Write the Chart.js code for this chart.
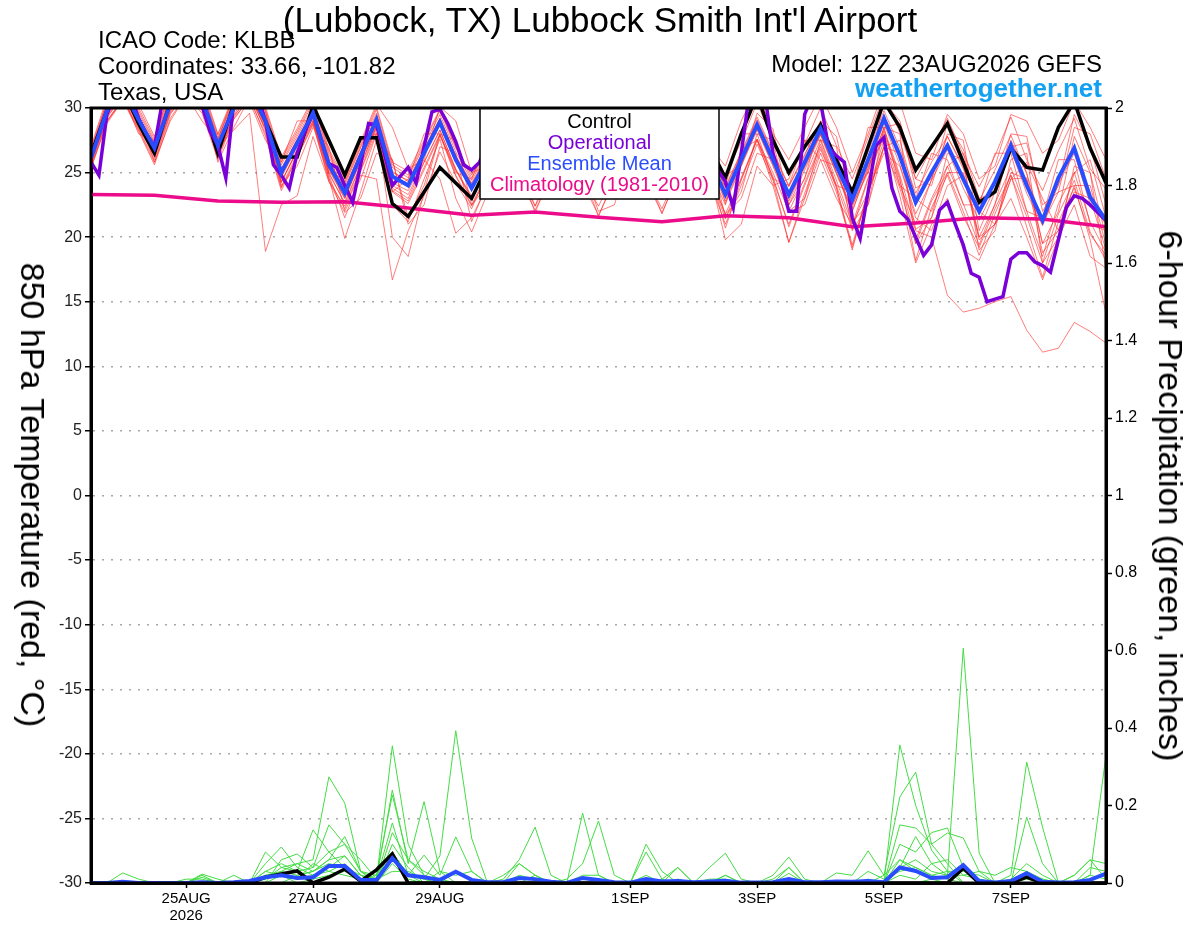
<!DOCTYPE html>
<html>
<head>
<meta charset="utf-8">
<title>KLBB GEFS 850 hPa meteogram</title>
<script src="https://cdn.jsdelivr.net/npm/chart.js@4.4.1/dist/chart.umd.min.js"></script>
<style>
  body { margin: 0; background: #fff; }
  #wrap { position: relative; width: 1200px; height: 927px; font-family: "Liberation Sans", Arial, sans-serif; }
  #wrap canvas { position: absolute; left: 0; top: 0; }
  .txt { position: absolute; white-space: nowrap; color: #000; line-height: 1; }
  .rot { transform: translate(-50%, -50%) rotate(90deg); }
</style>
</head>
<body>
<div id="wrap">
  <canvas id="meteogram" width="1200" height="927"></canvas>
  <div class="txt" style="left:0;width:1200px;text-align:center;top:2px;font-size:35px;">(Lubbock, TX) Lubbock Smith Int'l Airport</div>
  <div class="txt" style="left:98px;top:28px;font-size:24px;">ICAO Code: KLBB</div>
  <div class="txt" style="left:98px;top:54px;font-size:24px;">Coordinates: 33.66, -101.82</div>
  <div class="txt" style="left:98px;top:80px;font-size:24px;">Texas, USA</div>
  <div class="txt" style="right:98px;top:52px;font-size:24px;">Model: 12Z 23AUG2026 GEFS</div>
  <div class="txt" style="right:98px;top:75px;font-size:26px;font-weight:bold;color:#12a0f2;">weathertogether.net</div>
  <div class="txt rot" style="left:33px;top:495px;font-size:34px;">850 hPa Temperature (red, °C)</div>
  <div class="txt rot" style="left:1171px;top:496px;font-size:34px;">6-hour Precipitation (green, inches)</div>
</div>
<script>
// time axis: hours after 12Z 23AUG2026
const tickHours = [36, 84, 132, 204, 252, 300, 348];
const tickLabels = ["25AUG", "27AUG", "29AUG", "1SEP", "3SEP", "5SEP", "7SEP"];
const tickYears = ["2026", "", "", "", "", "", ""];

// 6-hourly 850 hPa temperature (C)
const tempControl = [
  26.4, 29.8, 31.5, 28.8, 26.5, 30.5, 32.0, 30.3,
  26.5, 30.3, 31.5, 29.0, 26.2, 26.2, 30.2, 27.5,
  24.8, 27.7, 27.7, 22.6, 21.6, 23.5, 25.4, 24.2,
  23.0, 25.5, 28.0, 26.0, 24.0, 26.5, 29.0, 26.5,
  24.0, 26.5, 29.0, 26.5, 24.5, 27.0, 29.0, 27.0,
  24.6, 28.0, 31.0, 27.5, 25.0, 27.0, 28.7, 26.0,
  23.5, 27.0, 30.5, 28.5, 25.2, 27.0, 28.8, 25.8,
  22.7, 23.5, 26.9, 25.4, 25.2, 28.5, 30.5, 26.9,
  24.2
];
const tempMean = [
  26.1, 29.8, 31.5, 29.1, 26.9, 30.3, 31.8, 30.8,
  27.1, 30.0, 31.5, 29.0, 25.0, 27.3, 29.6, 25.6,
  23.4, 26.3, 29.1, 24.7, 24.0, 26.5, 28.9, 26.0,
  23.8, 26.0, 28.5, 26.5, 24.5, 26.5, 28.5, 26.0,
  24.5, 26.5, 28.5, 26.0, 24.2, 26.5, 28.5, 26.0,
  23.3, 26.0, 28.7, 26.0, 23.3, 25.8, 28.4, 25.5,
  22.9, 26.0, 29.2, 26.3, 22.7, 25.0, 27.1, 24.5,
  22.0, 24.3, 27.1, 24.0, 21.3, 24.6, 26.9, 23.1,
  21.3
];
// operational run is 3-hourly
const tempOper = [
  25.8, 24.8, 29.5, 31.0, 31.5, 31.0, 29.2, 28.0,
  27.0, 30.5, 31.5, 31.8, 32.0, 31.5, 30.2, 28.2,
  27.1, 24.6, 30.5, 31.5, 32.0, 31.0, 29.0, 25.6,
  24.8, 23.8, 26.5, 28.2, 29.6, 27.6, 25.7, 25.4,
  24.0, 22.7, 25.6, 28.8, 28.7, 26.5, 24.0, 24.7,
  25.4, 24.2, 27.0, 29.7, 29.9, 28.8, 27.4, 25.6,
  25.2, 25.8, 27.3, 28.4, 29.1, 28.3, 26.8, 25.6,
  24.6, 25.4, 27.1, 28.6, 29.2, 28.4, 27.2, 25.4,
  24.3, 25.6, 27.0, 28.3, 29.0, 28.6, 27.1, 25.5,
  24.4, 25.4, 27.2, 28.4, 28.9, 28.0, 26.6, 25.2,
  24.3, 22.3, 26.5, 31.0, 31.5, 31.0, 26.5, 24.4,
  22.0, 22.0, 29.5, 31.0, 30.5, 27.0, 26.3, 25.8,
  21.5, 19.9, 23.5, 27.1, 27.7, 23.8, 22.0, 21.4,
  20.0, 18.6, 19.4, 22.1, 22.7, 21.0, 19.4, 17.2,
  16.9, 15.0, 15.2, 15.4, 18.3, 18.8, 18.8, 18.1,
  17.8, 17.3, 19.8, 22.3, 23.2, 23.0, 22.5, 21.9,
  21.3
];
// daily 1981-2010 climatology
const tempClim = [
  23.3, 23.25, 22.8, 22.7, 22.75, 22.25, 21.7, 21.95, 21.55,
  21.2, 21.65, 21.5, 20.8, 21.1, 21.5, 21.4, 20.8
];

// ensemble members, 6-hourly temperature
const mem01 = [25.6,29.2,31.0,28.6,26.2,29.8,31.4,30.2, 26.4,29.5,31.2,28.2,24.2,26.8,29.2,25.0, 22.6,25.5,28.6,23.8,23.0,25.8,28.3,25.2, 22.9,25.3,28.0,25.8,23.6,25.9,28.1,25.3, 23.4,25.8,28.0,25.2,23.0,25.7,28.0,25.3, 22.5,26.8,27.5,24.0,24.5,27.5,26.0,23.0, 21.0,23.5,27.0,27.5,23.0,22.0,25.5,26.5, 22.0,21.0,24.5,25.8,23.0,20.5,25.0,26.0, 21.5];
const mem02 = [26.9,30.5,32.2,30.0,27.6,31.0,32.5,31.5, 27.9,30.8,32.3,29.9,26.0,28.2,30.6,26.6, 24.3,27.2,30.1,25.8,25.1,27.5,29.9,27.0, 24.8,27.0,29.6,27.4,25.6,27.6,29.6,27.0, 25.5,27.6,29.8,27.2,25.3,27.6,29.7,27.1, 25.5,29.0,31.5,28.0,26.0,28.5,31.0,28.5, 25.0,28.0,31.5,30.5,26.5,26.0,29.5,28.0, 24.5,25.5,29.5,29.0,26.5,27.5,30.5,28.5, 26.0];
const mem03 = [25.9,29.6,31.3,28.9,26.6,30.0,31.6,30.4, 26.9,28.3,29.6,18.9,22.5,23.2,27.8,24.3, 22.4,25.2,28.4,23.6,22.8,25.4,28.0,24.8, 22.5,25.0,27.6,25.4,23.0,25.2,27.5,24.8, 23.2,25.2,27.6,25.0,23.0,25.4,27.6,24.9, 21.4,24.6,27.6,24.5,21.0,24.2,27.2,24.0, 20.6,24.5,28.0,24.4,19.8,23.0,25.5,22.6, 19.4,22.6,25.4,22.0,18.5,22.6,25.0,21.2, 18.8];
const mem04 = [26.2,29.8,31.4,29.0,26.7,30.2,31.7,30.6, 26.8,29.8,31.2,28.6,24.3,26.6,29.0,24.8, 21.5,24.8,24.5,16.7,20.5,23.2,26.6,24.2, 22.2,25.0,27.8,25.8,23.9,25.8,27.8,25.3, 23.6,25.6,27.9,25.2,23.5,25.7,27.9,25.2, 20.7,24.4,27.6,25.0,22.0,24.6,27.6,24.4, 21.0,24.6,28.2,24.6,18.2,22.3,24.8,21.6, 19.2,22.2,24.8,20.8,16.9,21.2,23.8,20.2, 18.6];
const mem05 = [26.4,30.0,31.6,29.3,27.1,30.4,32.0,30.9, 27.3,30.2,31.6,29.2,25.3,27.6,29.9,25.9, 23.8,26.6,29.4,25.0,24.4,26.8,29.2,26.3, 24.1,26.3,28.7,26.7,24.7,26.8,28.7,26.2, 24.8,26.8,28.8,26.3,24.5,26.7,28.7,26.3, 23.6,26.3,28.9,26.2,23.0,25.5,28.0,25.0, 22.0,25.3,28.4,24.8,20.5,20.0,15.5,14.2, 14.5,15.0,15.4,12.8,11.1,11.4,13.4,12.7, 11.8];
const mem06 = [25.4,28.8,30.6,28.2,25.6,29.2,31.0,29.6, 26.0,29.1,30.8,27.8,23.6,26.2,28.8,24.3, 21.9,23.0,26.5,26.0,21.0,22.5,27.0,26.5, 21.2,24.2,27.2,24.8,22.4,24.8,27.4,24.6, 22.4,24.9,27.4,24.6,22.2,25.0,27.4,24.7, 21.8,24.5,27.5,24.7,20.8,24.0,27.0,23.8, 19.4,23.6,27.5,23.2,18.0,21.0,23.0,19.0, 18.2,21.0,23.0,20.0,16.7,20.0,22.5,18.5, 17.6];
const mem07 = [26.6,30.2,31.9,29.6,27.3,30.7,32.2,31.2, 27.6,30.5,31.9,29.5,25.6,27.8,30.1,26.2, 24.0,26.9,29.6,25.4,24.6,27.1,29.5,26.6, 24.4,26.6,29.1,27.0,25.2,27.1,29.1,26.6, 25.1,27.1,29.1,26.6,24.9,27.1,29.1,26.6, 23.9,26.6,29.3,26.6,24.0,26.4,29.0,26.1, 23.5,26.6,29.8,26.9,23.4,25.8,27.8,25.3, 22.8,25.2,27.9,24.9,21.0,23.5,24.0,19.8, 14.1];
const mem08 = [25.3,28.9,30.8,28.3,25.8,29.5,31.2,29.9, 26.2,29.3,31.0,28.4,23.9,26.4,28.9,24.6, 19.9,23.5,27.5,22.5,21.2,24.5,27.6,23.0, 20.4,23.4,26.8,24.5,22.1,24.6,27.2,24.2, 21.7,24.3,27.0,24.3,21.9,24.6,27.1,24.4, 21.0,24.0,27.2,24.4,19.6,23.4,26.8,23.9, 19.0,23.6,26.5,25.5,21.5,20.5,24.0,24.8, 19.8,21.0,25.0,24.5,18.8,20.5,23.5,23.0, 19.0];
const mem09 = [26.7,30.4,32.0,29.8,27.4,30.9,32.4,31.3, 27.7,30.6,32.2,29.7,25.8,28.0,30.4,26.4, 24.2,27.0,29.9,25.6,24.8,27.3,29.8,26.9, 24.6,26.8,29.3,27.2,25.3,27.4,29.4,26.9, 25.3,27.3,29.4,26.8,25.0,27.4,29.5,26.9, 24.8,25.5,29.6,28.4,22.5,24.5,29.0,27.8, 22.5,25.0,30.5,29.0,24.5,24.0,28.0,27.5, 20.5,23.5,28.0,27.8,22.0,24.0,29.5,27.0, 22.5];
const mem10 = [26.0,29.7,31.4,29.0,26.8,30.2,31.7,30.7, 27.0,29.9,31.4,28.9,24.8,27.1,29.4,25.3, 23.0,25.9,28.6,20.0,18.5,23.5,27.9,25.2, 23.2,25.6,28.2,26.1,24.1,26.2,28.2,25.6, 24.1,26.2,28.2,25.6,23.8,26.1,28.2,25.6, 22.8,25.6,28.4,25.6,22.8,25.4,28.0,25.0, 22.3,25.6,27.5,24.0,21.0,24.5,27.8,25.5, 20.0,22.5,27.5,25.0,19.5,22.0,27.8,25.0, 20.0];
const mem11 = [25.8,29.4,31.1,28.7,26.5,29.9,31.4,30.3, 26.7,29.7,31.1,28.6,24.6,27.0,29.3,25.2, 23.0,25.9,28.7,24.2,23.6,26.0,24.5,20.3, 21.5,24.0,27.4,25.6,22.4,25.6,27.9,25.4, 22.0,22.5,26.5,27.0,23.2,23.5,27.0,27.2, 22.6,25.5,28.3,25.5,22.5,25.2,27.9,24.9, 22.0,25.4,28.8,25.6,21.8,24.4,26.8,23.8, 21.3,23.8,26.8,23.4,20.9,24.1,26.5,22.6, 21.0];
const mem12 = [26.3,30.1,31.7,29.4,27.0,30.5,31.9,31.0, 27.3,30.3,31.8,29.3,25.3,27.5,29.8,25.9, 23.7,26.6,29.3,25.1,24.3,26.8,29.2,26.3, 24.2,26.4,28.8,26.9,24.9,27.0,28.9,26.4, 24.9,26.9,28.9,26.4,24.6,26.9,28.9,26.4, 23.8,26.5,29.1,26.5,23.9,26.3,28.9,26.0, 23.5,25.0,28.5,28.8,23.8,24.5,28.8,26.8, 23.0,23.5,27.0,27.3,22.5,23.5,28.5,28.0, 24.5];
const mem13 = [25.7,29.3,31.0,28.5,26.3,29.7,31.3,30.1, 26.5,29.4,30.9,28.4,24.3,26.7,29.0,24.9, 22.7,25.6,28.5,24.0,23.3,25.8,28.3,25.3, 23.0,25.2,27.8,25.4,21.9,24.8,27.7,25.0, 21.6,24.6,27.6,24.9,21.8,24.9,27.7,25.0, 21.8,23.0,26.5,26.0,21.9,22.5,26.0,25.5, 21.2,22.5,27.0,26.5,20.6,21.5,25.0,25.0, 20.0,21.0,24.5,24.6,19.5,20.5,24.0,24.0, 19.4];
const mem14 = [26.2,29.9,31.6,29.2,27.0,30.4,31.9,30.9, 27.2,30.1,31.6,29.1,25.1,27.4,29.7,25.7, 23.5,26.4,29.2,24.8,24.1,26.6,29.0,26.1, 23.9,26.1,28.6,26.6,24.6,26.6,28.6,26.1, 24.6,26.6,28.6,26.1,24.3,26.6,28.6,26.1, 23.4,26.1,28.8,26.1,23.4,25.9,28.5,25.6, 23.0,26.1,29.3,26.4,22.8,25.1,27.2,24.6, 22.1,24.4,27.2,24.1,21.4,24.7,27.0,23.2, 21.4];
const mem15 = [25.5,29.0,30.7,28.4,26.0,29.6,31.1,29.8, 26.3,29.2,30.7,28.0,23.8,26.2,28.7,24.5, 22.2,25.1,28.1,23.5,22.6,25.2,27.9,24.7, 22.4,24.8,27.5,25.2,23.2,25.3,27.5,25.0, 23.0,25.3,27.6,24.9,22.9,25.3,27.6,25.0, 19.8,21.0,25.5,24.0,19.6,23.0,26.5,23.5, 19.2,23.4,27.0,23.8,19.5,22.8,25.0,22.0, 18.6,21.8,24.8,21.6,18.0,21.8,24.4,20.4, 18.2];
const mem16 = [27.0,30.8,32.5,30.3,27.8,31.3,32.8,31.8, 28.0,31.0,32.5,30.1,26.2,28.4,30.8,26.8, 24.5,27.4,30.3,28.5,25.3,26.0,30.1,29.0, 25.0,25.5,29.8,29.2,25.8,27.8,29.8,27.2, 25.7,27.8,30.0,27.4,25.5,27.8,29.9,27.3, 24.8,27.4,30.4,27.5,24.8,27.2,30.0,27.1, 24.5,27.7,31.0,28.1,24.5,26.9,29.2,26.4, 23.9,26.3,29.3,26.0,23.6,26.7,29.2,25.3, 23.7];
const mem17 = [26.0,29.0,30.5,29.5,25.8,29.0,31.0,31.0, 25.8,28.5,30.8,29.8,24.0,25.5,28.5,27.0, 22.0,24.5,28.0,26.0,21.5,24.0,28.0,27.5, 22.5,24.0,27.5,27.0,23.0,24.5,27.8,26.5, 23.0,24.5,27.5,26.5,23.0,24.8,27.8,26.8, 21.5,23.5,28.0,27.5,22.0,23.0,27.5,27.0, 20.5,22.5,28.5,28.0,19.5,21.5,26.5,26.0, 19.0,20.5,26.0,26.5,18.0,20.0,25.5,25.0, 17.5];
const mem18 = [26.5,30.5,31.0,28.0,27.5,31.5,31.0,29.0, 27.5,31.0,30.5,27.5,25.8,29.0,29.0,25.0, 24.5,27.5,28.0,23.5,24.5,28.0,28.0,25.0, 24.5,27.5,27.5,25.0,25.0,27.8,27.5,25.0, 25.0,27.8,27.5,25.0,24.8,27.5,27.5,25.0, 24.0,28.0,28.0,24.5,24.0,27.5,27.5,24.0, 23.5,28.5,28.5,24.0,23.0,26.5,26.0,22.5, 22.5,26.5,26.5,22.0,21.5,26.0,26.0,21.0, 20.5];
const memberTemps = [mem01, mem02, mem03, mem04, mem05, mem06, mem07, mem08, mem09,
  mem10, mem11, mem12, mem13, mem14, mem15, mem16, mem17, mem18];

// 6-hour precipitation (inches)
const pcpControl = [0,0,0,0,0,0,0,0, 0,0,0,0.015,0.023,0.031,0,0.015, 0.036,0.005,0.034,0.075,0,0,0,0, 0,0,0,0,0,0,0,0, 0,0,0,0,0,0,0,0, 0,0,0,0,0,0,0,0, 0,0,0,0,0,0,0,0.038, 0,0,0,0.015,0,0,0,0, 0];
const pcpMean = [0,0,0.003,0,0,0,0,0.002, 0,0.002,0.005,0.015,0.02,0.013,0.015,0.044, 0.044,0.008,0.008,0.064,0.02,0.015,0.008,0.029, 0.008,0.002,0.002,0.013,0.01,0.003,0,0.013, 0.008,0.002,0.001,0.01,0.004,0.005,0.002,0.004, 0.006,0.001,0.001,0.002,0.01,0.002,0.002,0.004, 0.003,0.005,0.002,0.04,0.031,0.013,0.015,0.046, 0.005,0.001,0.005,0.025,0.003,0.001,0.002,0.008, 0.024];
const pcp01 = [0,0,0,0,0,0,0,0, 0,0,0,0.01,0.03,0.05,0.06,0.274, 0.206,0.03,0,0,0,0,0,0, 0,0,0,0,0,0,0,0, 0,0,0,0,0,0,0,0, 0,0,0,0,0,0,0,0, 0,0,0,0.356,0.2,0.085,0.03,0, 0,0,0,0,0,0,0,0, 0];
const pcp02 = [0,0,0,0,0,0,0,0, 0,0,0,0,0.02,0.01,0.02,0.04, 0.07,0.02,0.01,0.354,0.1,0.02,0,0, 0,0,0.01,0.06,0.144,0.02,0,0, 0,0,0,0,0,0,0,0, 0,0,0,0,0,0,0,0, 0,0,0,0,0,0.01,0.02,0.606, 0.077,0,0,0,0,0,0,0, 0];
const pcp03 = [0,0,0,0,0,0,0,0, 0,0,0,0.03,0.02,0,0.01,0.02, 0.03,0.01,0,0.08,0.02,0.01,0.07,0.393, 0.116,0,0,0,0,0,0,0.18, 0.02,0,0,0,0,0,0,0, 0,0,0,0,0,0,0,0, 0,0,0,0.06,0.04,0.02,0.01,0, 0,0,0.02,0.312,0.144,0,0,0, 0];
const pcp04 = [0,0,0,0,0,0,0,0, 0,0,0,0,0,0.02,0.03,0.06, 0.12,0.03,0.01,0.24,0.05,0.21,0.03,0, 0,0,0,0,0,0,0.01,0.05, 0.16,0.02,0,0,0,0,0,0, 0,0,0,0,0,0,0,0, 0,0,0.02,0.222,0.286,0.1,0.05,0, 0,0,0,0,0,0,0,0.02, 0.33];
const pcp05 = [0,0,0,0,0,0,0,0.02, 0,0,0,0.08,0.04,0.03,0.137,0.08, 0.04,0.01,0.02,0.227,0.06,0.02,0,0, 0,0,0,0,0.02,0,0,0, 0,0,0,0.1,0.03,0,0,0, 0.02,0,0,0,0,0,0,0, 0,0,0,0.15,0.142,0.1,0.129,0.116, 0.03,0,0,0.17,0.05,0,0,0, 0];
const pcp06 = [0,0,0,0,0,0,0,0, 0,0,0,0,0.06,0.075,0.04,0.15, 0.1,0.06,0.01,0.155,0.02,0.072,0.02,0.119, 0.03,0,0,0,0,0,0,0, 0,0,0,0.08,0.01,0.04,0,0.04, 0.077,0.01,0,0,0.04,0,0,0, 0,0,0,0.1,0.08,0.13,0.142,0.04, 0,0,0,0.03,0,0,0.02,0.06, 0.05];
const pcp07 = [0,0,0.026,0.01,0,0,0,0, 0,0,0,0.05,0.093,0.04,0.02,0.03, 0.02,0.01,0,0.1,0.04,0,0,0, 0,0,0.02,0.05,0.02,0,0,0, 0,0,0,0,0,0.04,0,0, 0,0,0,0.02,0.067,0.01,0,0.026, 0.02,0.083,0.02,0.06,0.03,0.01,0,0, 0,0,0,0,0,0,0,0.04, 0.03];
const pcp08 = [0,0,0,0,0,0,0,0.023, 0.01,0,0,0.03,0.05,0.03,0.04,0.08, 0.1,0.03,0.02,0.08,0.02,0,0,0, 0,0,0,0,0,0,0,0, 0,0,0,0,0,0,0,0, 0,0,0,0.01,0.04,0,0,0, 0,0,0,0.02,0.01,0.05,0.06,0.02, 0.03,0.02,0.04,0.03,0.01,0,0,0, 0];
const pcp09 = [0,0,0,0,0,0,0,0.015, 0,0.02,0,0.02,0.03,0.02,0.03,0.06, 0.07,0.02,0,0.05,0.01,0,0.03,0.02, 0.03,0,0,0.05,0.02,0,0,0.01, 0.01,0,0,0,0.01,0,0,0, 0.02,0,0,0,0.025,0,0,0, 0,0.03,0.01,0.03,0.04,0.02,0.03,0.03, 0.02,0,0,0.02,0.01,0,0.02,0.06, 0.01];
const pcp10 = [0,0,0,0,0,0,0.01,0.01, 0,0,0,0.01,0.04,0.05,0.03,0.05, 0.04,0.02,0.01,0.03,0.03,0.01,0,0.03, 0.01,0,0,0.02,0.01,0,0,0, 0,0,0,0.02,0,0.01,0,0.01, 0.01,0,0,0,0.01,0,0,0, 0,0.01,0,0.04,0.06,0.03,0.02,0.05, 0.01,0,0,0.01,0,0,0,0.01, 0.02];
const pcp11 = [0,0,0,0,0,0,0,0, 0,0,0,0.02,0.02,0.01,0.05,0.03, 0.05,0.01,0,0.13,0.06,0.03,0.01,0, 0,0,0,0,0,0,0,0.02, 0.02,0,0,0,0,0,0,0, 0,0,0,0,0,0,0,0, 0,0,0,0.04,0.12,0.05,0.02,0.02, 0.01,0,0.01,0.05,0.02,0,0,0.02, 0.01];
const memberPcps = [pcp01, pcp02, pcp03, pcp04, pcp05, pcp06, pcp07, pcp08, pcp09, pcp10, pcp11];

const keyLines = ["Control", "Operational", "Ensemble Mean", "Climatology (1981-2010)"];
const keyColors = ["#000000", "#7a00d8", "#2a4cff", "#ec0b8a"];

const fontFamily = '"Liberation Sans", Arial, sans-serif';
Chart.defaults.font.family = fontFamily;

const toPoints = (values, step) => values.map((v, i) => ({ x: i * step, y: v }));

const lineSet = (values, step, color, width, axis, order) => ({
  data: toPoints(values, step),
  borderColor: color,
  borderWidth: width,
  yAxisID: axis,
  order,
  pointRadius: 0,
  tension: 0,
  fill: false,
});

const datasets = [];
memberTemps.forEach((m) => datasets.push(lineSet(m, 6, "rgba(255,40,40,0.6)", 1, "y", 7)));
memberPcps.forEach((m) => datasets.push(lineSet(m, 6, "#44dd44", 1, "y2", 6)));
datasets.push(lineSet(tempClim, 24, "#ec0b8a", 3.5, "y", 5));
datasets.push(lineSet(tempControl, 6, "#000000", 3.5, "y", 4));
datasets.push(lineSet(pcpControl, 6, "#000000", 3.5, "y2", 3));
datasets.push(lineSet(tempOper, 3, "#7a00d8", 3.5, "y", 2));
datasets.push(lineSet(tempMean, 6, "#2a4cff", 4, "y", 1));
datasets.push(lineSet(pcpMean, 6, "#2a4cff", 4, "y2", 0));

// legend box and plot frame drawn over the lines
const frameAndKey = {
  id: "frameAndKey",
  afterDatasetsDraw(chart) {
    const { ctx, chartArea: a } = chart;
    ctx.save();
    const bx = a.left + 389, by = a.top, bw = 239, bh = 91;
    ctx.fillStyle = "#fff";
    ctx.fillRect(bx, by, bw, bh);
    ctx.strokeStyle = "#000";
    ctx.lineWidth = 1.5;
    ctx.strokeRect(bx, by, bw, bh);
    ctx.font = "20px " + fontFamily;
    ctx.textAlign = "center";
    ctx.textBaseline = "middle";
    keyLines.forEach((t, k) => {
      ctx.fillStyle = keyColors[k];
      ctx.fillText(t, bx + bw / 2, by + 14 + k * 21.3);
    });
    ctx.lineWidth = 3;
    ctx.strokeRect(a.left, a.top, a.right - a.left, a.bottom - a.top);
    ctx.restore();
  },
};

new Chart(document.getElementById("meteogram"), {
  type: "line",
  data: { datasets },
  options: {
    responsive: false,
    animation: false,
    devicePixelRatio: 1,
    layout: { padding: { top: 108, left: 0, right: 0, bottom: 0 } },
    plugins: { legend: { display: false }, tooltip: { enabled: false }, title: { display: false } },
    scales: {
      x: {
        type: "linear",
        min: 0,
        max: 384,
        afterFit: (s) => { s.height = 44; },
        afterBuildTicks: (s) => { s.ticks = tickHours.map((v) => ({ value: v })); },
        grid: { drawOnChartArea: false, drawTicks: true, tickLength: 5, tickColor: "#000", tickWidth: 1.5 },
        border: { display: true, color: "#000", width: 3 },
        ticks: {
          autoSkip: false,
          maxRotation: 0,
          padding: 3,
          color: "#000",
          font: { size: 15, lineHeight: 1.1 },
          callback: (value) => {
            const k = tickHours.indexOf(value);
            return tickYears[k] ? [tickLabels[k], tickYears[k]] : tickLabels[k];
          },
        },
      },
      y: {
        position: "left",
        min: -30,
        max: 30,
        afterFit: (s) => { s.width = 91; },
        ticks: { stepSize: 5, color: "#222", padding: 3, font: { size: 16 } },
        grid: { color: "#a8a8a8", lineWidth: 1.5, tickLength: 6, tickColor: "#000", tickWidth: 1.5, tickBorderDash: [] },
        border: { display: true, color: "#000", width: 3, dash: [2, 7] },
      },
      y2: {
        position: "right",
        min: 0,
        max: 2,
        afterFit: (s) => { s.width = 94; },
        ticks: {
          stepSize: 0.2,
          color: "#000",
          padding: 3,
          font: { size: 16 },
          callback: (value) => String(Number(value.toFixed(1))),
        },
        grid: { drawOnChartArea: false, tickLength: 6, tickColor: "#000", tickWidth: 1.5 },
        border: { display: true, color: "#000", width: 3 },
      },
    },
  },
  plugins: [frameAndKey],
});
</script>
</body>
</html>
